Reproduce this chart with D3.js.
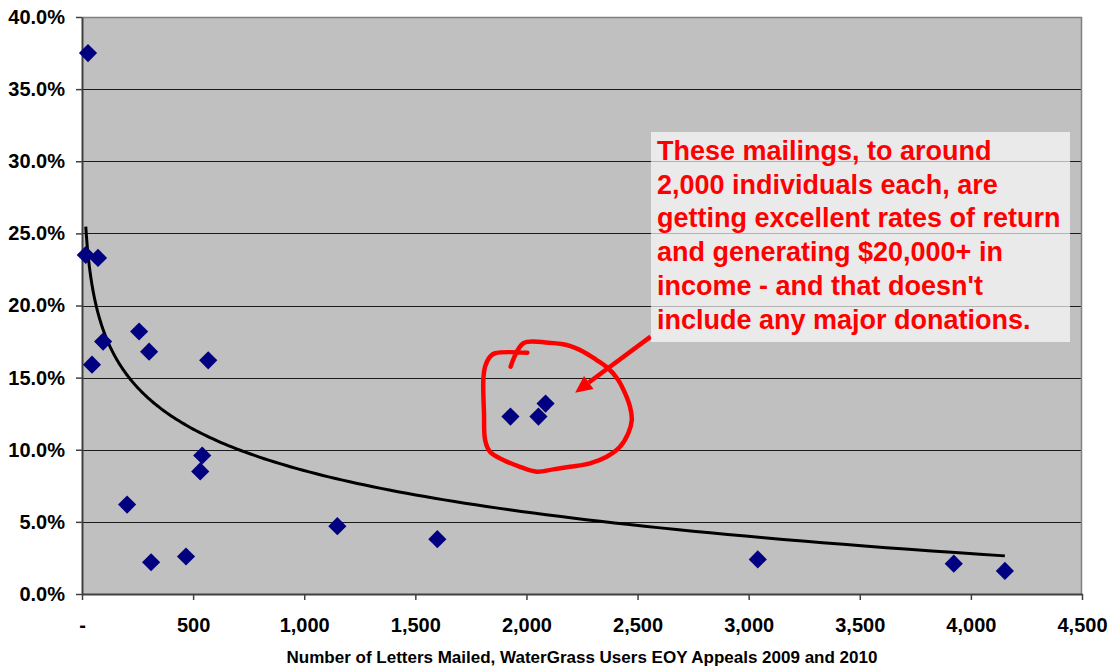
<!DOCTYPE html>
<html>
<head>
<meta charset="utf-8">
<script src="https://cdn.jsdelivr.net/npm/d3@7"></script>
<style>
  body { margin: 0; background: #fff; }
  svg { display: block; font-family: Arial, "Liberation Sans", sans-serif; }
</style>
</head>
<body>
<svg id="chart" width="1112" height="667"></svg>
<script>
// Letters mailed per appeal and the share of recipients who responded (%)
const lettersMailed = [27, 17, 72, 45, 95, 257, 302, 568, 203, 311, 468, 541, 532,
                       1149, 1599, 1928, 2054, 2086, 3041, 3923, 4153];
const returnRates   = [37.5, 23.5, 23.3, 15.9, 17.5, 18.2, 16.8, 16.2, 6.2, 2.2, 2.6, 9.6, 8.5,
                       4.7, 3.8, 12.3, 12.3, 13.2, 2.4, 2.1, 1.6];

const xTicks = [0, 500, 1000, 1500, 2000, 2500, 3000, 3500, 4000, 4500];
const xTickLabels = ["-", "500", "1,000", "1,500", "2,000", "2,500", "3,000", "3,500", "4,000", "4,500"];
const yTicks = [0, 5, 10, 15, 20, 25, 30, 35, 40];
const yTickLabels = ["0.0%", "5.0%", "10.0%", "15.0%", "20.0%", "25.0%", "30.0%", "35.0%", "40.0%"];

const xAxisTitle = "Number of Letters Mailed, WaterGrass Users EOY Appeals 2009 and 2010";
const noteLines = [
  "These mailings, to around",
  "2,000 individuals each, are",
  "getting excellent rates of return",
  "and generating $20,000+ in",
  "income - and that doesn't",
  "include any major donations."
];

// Hand-drawn loop around the ~2,000-letter mailings (letters, %)
const loopLetters = [1929, 1986, 2098, 2181, 2256, 2316, 2368, 2413, 2444, 2466, 2474, 2458, 2421,
                     2361, 2286, 2196, 2121, 2046, 1971, 1896, 1836, 1814, 1809, 1806, 1814, 1836, 1859, 2004];
const loopRates   = [15.76, 17.38, 17.42, 17.26, 16.80, 16.22, 15.65, 14.84, 13.91, 12.98, 12.06, 11.14, 10.21,
                     9.52, 9.06, 8.82, 8.64, 8.48, 8.82, 9.29, 9.86, 10.68, 12.53, 14.84, 15.76, 16.45, 16.69, 16.73];
// Arrow from the note toward the loop (letters, %)
const arrowLetters = [2559, 2219];
const arrowRates   = [17.84, 13.96];

const svg = d3.select("#chart");
const margin = { left: 82, top: 17, right: 30, bottom: 73 };
const W = 1112, H = 667;
const plotW = W - margin.left - margin.right;
const plotH = H - margin.top - margin.bottom;

const x = d3.scaleLinear().domain([0, 4500]).range([0, plotW]);
const y = d3.scaleLinear().domain([0, 40]).range([plotH, 0]);

const g = svg.append("g").attr("transform", `translate(${margin.left},${margin.top})`);

// plot area
g.append("rect").attr("x", 0).attr("y", 0).attr("width", plotW).attr("height", plotH)
  .attr("fill", "#c0c0c0");

// horizontal gridlines
g.append("g").selectAll("line").data(yTicks.filter(v => v > 0 && v < 40)).join("line")
  .attr("x1", 0).attr("x2", plotW)
  .attr("y1", d => Math.round(y(d)) + 0.5).attr("y2", d => Math.round(y(d)) + 0.5)
  .attr("stroke", "#1a1a1a").attr("stroke-width", 1);

// top and right plot border
g.append("path")
  .attr("d", `M0,0.5H${plotW - 0.5}V${plotH}`)
  .attr("fill", "none").attr("stroke", "#808080").attr("stroke-width", 1.5);

// axes
const yAxis = d3.axisLeft(y).tickValues(yTicks)
  .tickFormat((d, i) => yTickLabels[i]).tickSize(6).tickSizeOuter(0).tickPadding(11);
const xAxis = d3.axisBottom(x).tickValues(xTicks)
  .tickFormat((d, i) => xTickLabels[i]).tickSize(6).tickSizeOuter(0).tickPadding(18);

const gy = g.append("g").call(yAxis);
const gx = g.append("g").attr("transform", `translate(0,${plotH})`).call(xAxis);
[gy, gx].forEach(ax => {
  ax.select(".domain").attr("stroke", "#404040").attr("stroke-width", 2);
  ax.selectAll(".tick line").attr("stroke", "#404040").attr("stroke-width", 1.5);
  ax.selectAll(".tick text").attr("fill", "#000").attr("font-size", 20)
    .attr("font-weight", "bold").attr("font-family", "Arial, 'Liberation Sans', sans-serif");
});

// axis title
svg.append("text")
  .attr("x", margin.left + plotW / 2).attr("y", 663)
  .attr("text-anchor", "middle").attr("font-size", 17).attr("font-weight", "bold")
  .attr("fill", "#000").text(xAxisTitle);

// logarithmic trendline fitted by least squares: rate = a*ln(letters) + b
const logs = lettersMailed.map(Math.log);
const mL = d3.mean(logs), mY = d3.mean(returnRates);
const sxy = d3.sum(logs, (l, i) => (l - mL) * (returnRates[i] - mY));
const sxx = d3.sum(logs, l => (l - mL) ** 2);
const slope = sxy / sxx, intercept = mY - slope * mL;
const xMin = d3.min(lettersMailed), xMax = d3.max(lettersMailed);
const trendPts = d3.range(0, 201).map(i => {
  const v = Math.exp(Math.log(xMin) + (Math.log(xMax) - Math.log(xMin)) * i / 200);
  return [v, slope * Math.log(v) + intercept];
});
g.append("path").datum(trendPts)
  .attr("d", d3.line().x(d => x(d[0])).y(d => y(d[1])))
  .attr("fill", "none").attr("stroke", "#000").attr("stroke-width", 3);

// markers
const diamond = d3.symbol().type(d3.symbolSquare).size(165);
g.append("g").selectAll("path").data(lettersMailed).join("path")
  .attr("transform", (d, i) => `translate(${x(d)},${y(returnRates[i])}) rotate(45)`)
  .attr("d", diamond).attr("fill", "#000080");

// note box
const noteX = 651, noteY = 132, noteW = 419, noteH = 210;
svg.append("rect").attr("x", noteX).attr("y", noteY).attr("width", noteW).attr("height", noteH)
  .attr("fill", "#ffffff").attr("fill-opacity", 0.67);
svg.append("g").selectAll("text").data(noteLines).join("text")
  .attr("x", noteX + 6).attr("y", (d, i) => 160 + i * 33.7)
  .attr("font-size", 27).attr("font-weight", "bold").attr("fill", "#ff0000")
  .text(d => d);

// hand-drawn loop
const loopPts = loopLetters.map((v, i) => [x(v), y(loopRates[i])]);
g.append("path").datum(loopPts)
  .attr("d", d3.line().curve(d3.curveCatmullRom.alpha(0.5)))
  .attr("fill", "none").attr("stroke", "#ff0000").attr("stroke-width", 4.5)
  .attr("stroke-linecap", "round").attr("stroke-linejoin", "round");

// arrow
const ax0 = x(arrowLetters[0]), ay0 = y(arrowRates[0]);
const ax1 = x(arrowLetters[1]), ay1 = y(arrowRates[1]);
const ang = Math.atan2(ay1 - ay0, ax1 - ax0);
const headLen = 17, headHalf = 8;
const bx = ax1 - headLen * Math.cos(ang), by = ay1 - headLen * Math.sin(ang);
g.append("line").attr("x1", ax0).attr("y1", ay0).attr("x2", bx).attr("y2", by)
  .attr("stroke", "#ff0000").attr("stroke-width", 4.5);
g.append("path")
  .attr("d", `M${ax1},${ay1}L${bx - headHalf * Math.sin(ang)},${by + headHalf * Math.cos(ang)}` +
             `L${bx + headHalf * Math.sin(ang)},${by - headHalf * Math.cos(ang)}Z`)
  .attr("fill", "#ff0000");
</script>
</body>
</html>
